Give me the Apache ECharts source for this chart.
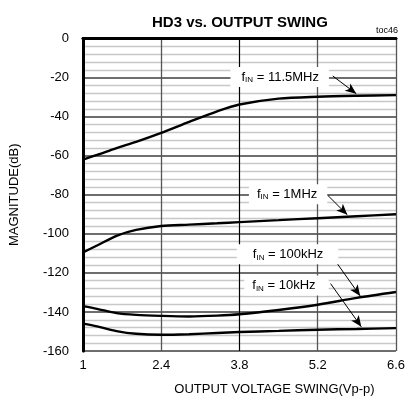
<!DOCTYPE html>
<html><head><meta charset="utf-8">
<script src="https://cdn.jsdelivr.net/npm/echarts@6/dist/echarts.min.js"></script>
<style>html,body{margin:0;padding:0;background:#fff}#c{width:408px;height:407px}</style>
</head><body><div id="c"></div>
<script>
const swing = [1, 1.25, 1.6, 1.95, 2.4, 2.9, 3.4, 3.8, 4.5, 5.2, 5.9, 6.6];
const hd3_11_5MHz = [-62, -59.6, -56.1, -52.9, -48.3, -42.7, -37.3, -33.8, -30.8, -29.8, -29.3, -29];
const hd3_1MHz = [-109.5, -106, -101, -98, -96, -95.3, -94.6, -94, -93, -92, -91, -90];
const hd3_100kHz = [-137, -138.4, -140.6, -141.5, -142, -142.3, -141.9, -141.2, -139, -136.3, -132.8, -129.8];
const hd3_10kHz = [-146, -147.4, -149.8, -151.2, -151.7, -151.4, -150.8, -150.3, -149.7, -149.1, -148.7, -148.3];
const xTicks = [1, 2.4, 3.8, 5.2, 6.6];
const yTicks = [0, -20, -40, -60, -80, -100, -120, -140, -160];
const labels = [
  {name: '11.5MHz', at: [4.52, -19.7], pad: [2, 10, 2, 11], arrow: [[5.47, -19.2], [5.89, -28.3]]},
  {name: '1MHz', at: [4.67, -79.7], pad: [2, 10, 2, 8], arrow: [[5.38, -80.3], [5.73, -90.3]]},
  {name: '100kHz', at: [4.66, -110.5], pad: [2, 15, 2, 16], arrow: [[5.55, -115.3], [5.96, -131.8]]},
  {name: '10kHz', at: [4.64, -126.4], pad: [2, 13, 2, 8], arrow: [[5.43, -125.5], [5.98, -147.6]]}
];
const seriesData = [hd3_11_5MHz, hd3_1MHz, hd3_100kHz, hd3_10kHz];

const X0 = xTicks[0];
const FONT = '"Liberation Sans", Arial, sans-serif';
const sx = v => v - X0;

const series = seriesData.map((vals, i) => {
  const L = labels[i];
  return {
    type: 'line',
    data: swing.map((x, j) => [sx(x), vals[j]]),
    smooth: 0.3,
    showSymbol: false,
    lineStyle: {color: '#000', width: 2.4},
    silent: true,
    z: 5,
    markPoint: {
      symbol: 'rect', symbolSize: 0, silent: true,
      data: [{coord: [sx(L.at[0]), L.at[1]]}],
      label: {
        show: true, position: 'inside',
        formatter: '{f|f}{s|IN}{t| = ' + L.name + '}',
        backgroundColor: '#fff', padding: L.pad,
        rich: {
          f: {fontSize: 13, fontFamily: FONT, color: '#000', lineHeight: 16},
          s: {fontSize: 8, fontFamily: FONT, color: '#000', padding: [6, 0, 0, 0], lineHeight: 16},
          t: {fontSize: 13, fontFamily: FONT, color: '#000', lineHeight: 16}
        }
      }
    },
    markLine: {
      silent: true, symbol: ['none', 'arrow'], symbolSize: [7, 11],
      label: {show: false},
      lineStyle: {color: '#000', width: 1, type: 'solid'},
      data: [[{coord: [sx(L.arrow[0][0]), L.arrow[0][1]]}, {coord: [sx(L.arrow[1][0]), L.arrow[1][1]]}]]
    }
  };
});
// darker vertical line at the middle tick
series.push({
  type: 'line', data: [], silent: true, z: 3,
  markLine: {silent: true, symbol: 'none', label: {show: false},
    lineStyle: {color: '#000', width: 1, type: 'solid'},
    data: [{xAxis: sx(xTicks[2])}]}
});

const chart = echarts.init(document.getElementById('c'), null, {renderer: 'canvas'});
chart.setOption({
  animation: false,
  backgroundColor: '#fff',
  title: {text: 'HD3 vs. OUTPUT SWING', left: 147, top: 10,
    textStyle: {fontFamily: FONT, fontWeight: 'bold', fontSize: 15, color: '#000'}},
  graphic: [{type: 'text', right: 10, top: 26,
    style: {text: 'toc46', fontFamily: FONT, fontSize: 9, fill: '#000'}}],
  grid: {left: 81, right: 10, top: 38.5, bottom: 56},
  xAxis: [{
    type: 'value', min: 0, max: sx(xTicks[4]), interval: sx(xTicks[1]),
    name: 'OUTPUT VOLTAGE SWING(Vp-p)', nameLocation: 'middle', nameGap: 32,
    nameTextStyle: {fontFamily: FONT, fontSize: 13, color: '#000', padding: [0, 0, 0, 70]},
    axisLine: {show: true, lineStyle: {color: '#000', width: 3}},
    axisTick: {show: false},
    axisLabel: {fontFamily: FONT, fontSize: 13, color: '#000', margin: 8,
      formatter: v => String(parseFloat((v + X0).toFixed(1)))},
    splitLine: {show: true, lineStyle: {color: '#555', width: 1.3}}
  }, {
    type: 'value', position: 'top', min: 0, max: sx(xTicks[4]),
    axisLine: {show: true, lineStyle: {color: '#000', width: 2.5}},
    axisTick: {show: false}, axisLabel: {show: false}, splitLine: {show: false}
  }],
  yAxis: [{
    type: 'value', min: yTicks[8], max: yTicks[0], interval: 20,
    name: 'MAGNITUDE(dB)', nameLocation: 'middle', nameGap: 62,
    nameTextStyle: {fontFamily: FONT, fontSize: 13, color: '#000'},
    axisLine: {show: true, lineStyle: {color: '#000', width: 3}},
    axisTick: {show: false},
    axisLabel: {fontFamily: FONT, fontSize: 13, color: '#000', margin: 14},
    splitLine: {show: true, lineStyle: {color: '#6e6e6e', width: 1.8}},
    minorTick: {show: false, splitNumber: 5},
    minorSplitLine: {show: true, lineStyle: {color: '#c8c8c8', width: 1.3}}
  }, {
    type: 'value', position: 'right', min: yTicks[8], max: yTicks[0],
    axisLine: {show: true, lineStyle: {color: '#000', width: 2.5}},
    axisTick: {show: false}, axisLabel: {show: false}, splitLine: {show: false}
  }],
  series: series
});
</script>
</body></html>
